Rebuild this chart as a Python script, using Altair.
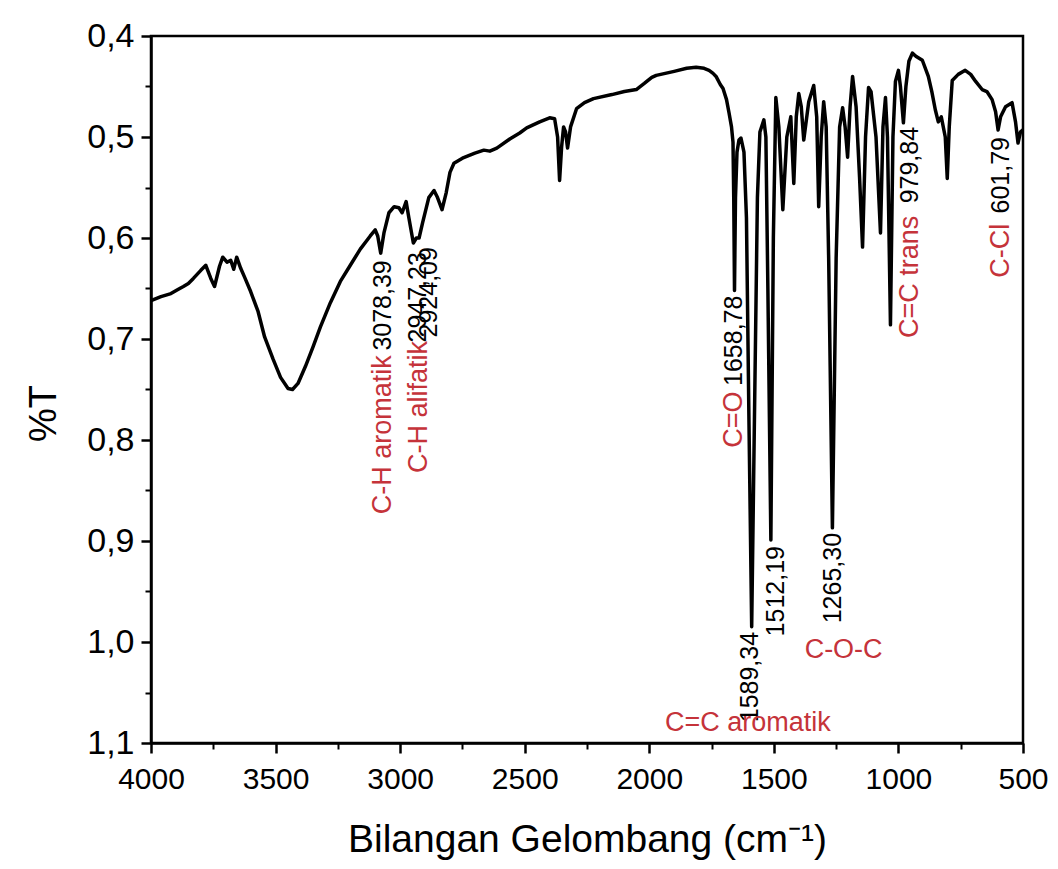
import altair as alt
import pandas as pd

# ---- spectrum (wavenumber cm-1, %T) ----
wn = [4000, 3960, 3920, 3892, 3870, 3850, 3830, 3800, 3780, 3760, 3745, 3725, 3712, 3695,
      3680, 3668, 3656, 3640, 3624, 3600, 3570, 3544, 3510, 3480, 3450, 3432, 3410, 3380,
      3350, 3320, 3280, 3240, 3200, 3160, 3120, 3100, 3090, 3078, 3065, 3045, 3024, 3005,
      2992, 2976, 2965, 2947, 2935, 2924, 2910, 2885, 2864, 2850, 2832, 2815, 2800, 2784,
      2750, 2700, 2664, 2640, 2612, 2560, 2520, 2492, 2440, 2400, 2380, 2368, 2360, 2352,
      2344, 2336, 2328, 2316, 2292, 2260, 2224, 2150, 2100, 2052, 2020, 1990, 1972, 1900,
      1850, 1812, 1780, 1760, 1744, 1732, 1715, 1704, 1690, 1680, 1670, 1664, 1661, 1658,
      1654, 1648, 1640, 1632, 1620, 1610, 1600, 1589, 1578, 1566, 1556, 1540, 1532, 1524,
      1512, 1502, 1492, 1480, 1464, 1448, 1432, 1420, 1410, 1400, 1390, 1380, 1360, 1340,
      1328, 1320, 1310, 1300, 1290, 1280, 1265, 1250, 1236, 1224, 1214, 1204, 1194, 1184,
      1170, 1156, 1144, 1132, 1120, 1110, 1090, 1072, 1062, 1052, 1044, 1032, 1022, 1012,
      1000, 992, 980, 970, 958, 944, 930, 904, 880, 866, 852, 840, 828, 812, 804, 796, 784,
      760, 732, 710, 690, 664, 645, 624, 610, 600, 590, 570, 544, 530, 520, 510, 500]
tr = [0.662, 0.658, 0.655, 0.651, 0.648, 0.645, 0.640, 0.632, 0.627, 0.640, 0.648, 0.628,
      0.619, 0.624, 0.622, 0.631, 0.619, 0.630, 0.639, 0.653, 0.673, 0.698, 0.720, 0.738,
      0.749, 0.750, 0.744, 0.727, 0.708, 0.688, 0.664, 0.643, 0.627, 0.611, 0.598, 0.592,
      0.598, 0.615, 0.595, 0.575, 0.569, 0.570, 0.575, 0.564, 0.580, 0.605, 0.600, 0.600,
      0.585, 0.560, 0.553, 0.560, 0.572, 0.555, 0.535, 0.526, 0.521, 0.516, 0.513, 0.514,
      0.511, 0.502, 0.496, 0.491, 0.485, 0.481, 0.482, 0.500, 0.543, 0.510, 0.490, 0.495,
      0.511, 0.490, 0.472, 0.466, 0.462, 0.458, 0.455, 0.453, 0.447, 0.441, 0.439, 0.435,
      0.432, 0.431, 0.432, 0.434, 0.437, 0.440, 0.448, 0.452, 0.463, 0.476, 0.490, 0.505,
      0.560, 0.652, 0.560, 0.515, 0.503, 0.501, 0.515, 0.580, 0.780, 0.985, 0.780, 0.560,
      0.495, 0.483, 0.500, 0.650, 0.899, 0.600, 0.461, 0.490, 0.572, 0.500, 0.480, 0.546,
      0.480, 0.457, 0.470, 0.503, 0.465, 0.449, 0.480, 0.569, 0.500, 0.465, 0.490, 0.620,
      0.887, 0.620, 0.490, 0.471, 0.490, 0.520, 0.470, 0.440, 0.470, 0.540, 0.609, 0.500,
      0.451, 0.455, 0.500, 0.595, 0.490, 0.461, 0.500, 0.686, 0.500, 0.445, 0.434, 0.450,
      0.486, 0.450, 0.425, 0.417, 0.420, 0.424, 0.440, 0.455, 0.473, 0.485, 0.480, 0.500,
      0.541, 0.490, 0.444, 0.438, 0.434, 0.438, 0.445, 0.453, 0.455, 0.463, 0.475, 0.493,
      0.480, 0.470, 0.466, 0.485, 0.506, 0.495, 0.493]

# ---- peak numbers (rotated, black) ----
num_wn = [3068, 2928, 2886, 1660, 1596, 1492, 1264, 952, 588]
num_T = [0.622, 0.614, 0.609, 0.657, 0.990, 0.905, 0.892, 0.490, 0.500]
num_text = ["3078,39", "2947,23", "2924,09", "1658,78", "1589,34", "1512,19",
            "1265,30", "979,84", "601,79"]

# ---- group labels (rotated, red) ----
lab_wn = [3068, 2926, 1660, 952, 588]
lab_T = [0.716, 0.702, 0.752, 0.578, 0.586]
lab_text = ["C-H aromatik", "C-H alifatik", "C=O", "C=C trans", "C-Cl"]

# ---- group labels (horizontal, red) ----
hlab_wn = [1220, 1604]
hlab_T = [1.008, 1.080]
hlab_text = ["C-O-C", "C=C aromatik"]

x_major = [4000, 3500, 3000, 2500, 2000, 1500, 1000, 500]
x_minor = [3750, 3250, 2750, 2250, 1750, 1250, 750]
y_major = [0.4, 0.5, 0.6, 0.7, 0.8, 0.9, 1.0, 1.1]
y_minor = [0.45, 0.55, 0.65, 0.75, 0.85, 0.95, 1.05]

FONT = "Liberation Sans"
RED = "#c5333a"

spec = pd.DataFrame({"wn": wn, "T": tr})
nums = pd.DataFrame({"wn": num_wn, "T": num_T, "label": num_text})
labs = pd.DataFrame({"wn": lab_wn, "T": lab_T, "label": lab_text})
hlabs = pd.DataFrame({"wn": hlab_wn, "T": hlab_T, "label": hlab_text})

xs = alt.Scale(domain=[500, 4000], reverse=True, nice=False, zero=False)
ys = alt.Scale(domain=[0.4, 1.1], reverse=True, nice=False, zero=False)

x_axis = alt.Axis(values=x_major, format="d", orient="bottom", grid=False,
                  tickSize=10, tickWidth=2.5, tickColor="black",
                  domainColor="black", domainWidth=2.5,
                  labelFont=FONT, labelFontSize=30, labelColor="black",
                  labelPadding=11, labelFlush=False,
                  title="Bilangan Gelombang (cm⁻¹)", titleFont=FONT, titleFontSize=39,
                  titleFontWeight="normal", titleColor="black",
                  titleY=108, titleBaseline="alphabetic")
y_axis = alt.Axis(values=y_major, orient="left", grid=False,
                  labelExpr="replace(format(datum.value, '.1f'), '.', ',')",
                  tickSize=10, tickWidth=2.5, tickColor="black",
                  domainColor="black", domainWidth=2.5,
                  labelFont=FONT, labelFontSize=34, labelColor="black",
                  labelPadding=7,
                  title="%T", titleFont=FONT, titleFontSize=38, titleFontWeight="normal",
                  titleColor="black", titleAngle=270, titleX=-96, titleY=377,
                  titleBaseline="alphabetic", titleAlign="center")

line = alt.Chart(spec).mark_line(color="black", strokeWidth=3.5, strokeJoin="round").encode(
    x=alt.X("wn:Q", scale=xs, axis=x_axis),
    y=alt.Y("T:Q", scale=ys, axis=y_axis),
    order="idx:Q",
).transform_window(idx="row_number()")

minor = alt.Chart(spec).mark_line(opacity=0).encode(
    x=alt.X("wn:Q", scale=xs, axis=alt.Axis(values=x_minor, orient="bottom", labels=False,
                                            domain=False, grid=False, tickSize=6,
                                            tickWidth=2, tickColor="black", title=None)),
    y=alt.Y("T:Q", scale=ys, axis=alt.Axis(values=y_minor, orient="left", labels=False,
                                           domain=False, grid=False, tickSize=6,
                                           tickWidth=2, tickColor="black", title=None)),
)

num_text_layer = alt.Chart(nums).mark_text(angle=270, align="right", baseline="middle",
                                           font=FONT, fontSize=25, color="black").encode(
    x=alt.X("wn:Q", scale=xs, axis=None),
    y=alt.Y("T:Q", scale=ys, axis=None),
    text="label:N",
)
lab_text_layer = alt.Chart(labs).mark_text(angle=270, align="right", baseline="middle",
                                           font=FONT, fontSize=27, color=RED).encode(
    x=alt.X("wn:Q", scale=xs, axis=None),
    y=alt.Y("T:Q", scale=ys, axis=None),
    text="label:N",
)
hlab_text_layer = alt.Chart(hlabs).mark_text(align="center", baseline="middle",
                                             font=FONT, fontSize=27, color=RED).encode(
    x=alt.X("wn:Q", scale=xs, axis=None),
    y=alt.Y("T:Q", scale=ys, axis=None),
    text="label:N",
)

chart = alt.layer(line, minor, num_text_layer, lab_text_layer, hlab_text_layer).resolve_axis(
    x="independent", y="independent"
).properties(
    width=872, height=707, autosize="none",
    padding={"left": 143, "top": 28, "right": 27, "bottom": 118},
    background="white",
).configure_view(stroke="black", strokeWidth=2.5)

chart.save("out.html", embed_options={"renderer": "svg", "actions": False})
